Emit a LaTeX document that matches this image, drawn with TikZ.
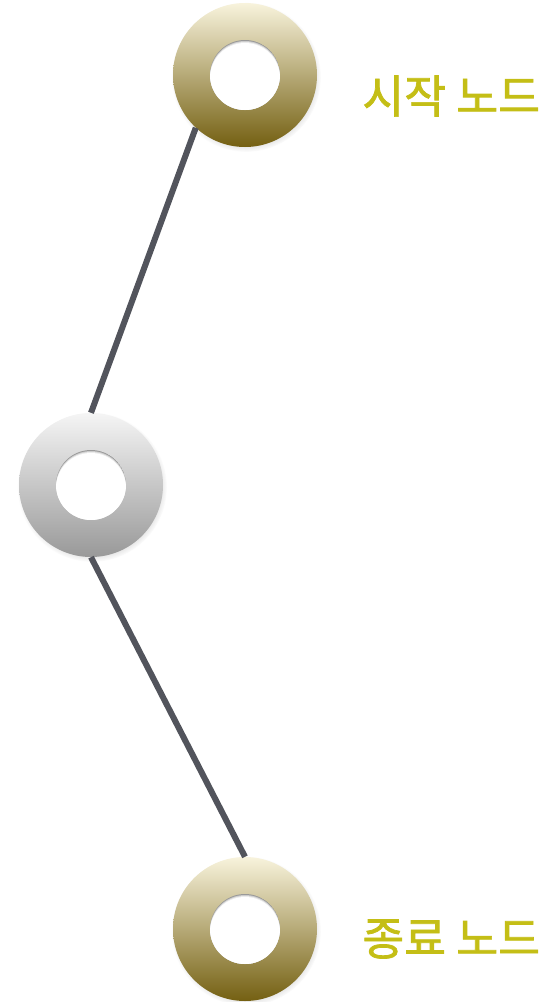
\documentclass[tikz,border=0pt]{standalone}
\usepackage{fontspec}
\newfontfamily\krfont{Noto Sans CJK KR}[FakeBold=1.6]
\usetikzlibrary{positioning,shadows}

\definecolor{labelgold}{RGB}{196,190,22}
\definecolor{linkgray}{RGB}{82,84,92}
\definecolor{goldtop}{RGB}{248,243,220}
\definecolor{goldmid}{RGB}{222,210,168}
\definecolor{goldbot}{RGB}{116,96,18}

% white hole with a soft inner shadow on its upper edge
\newcommand\ringhole{%
  \begin{scope}
    \clip (path picture bounding box.center) circle (35pt);
    \fill[black!40] (path picture bounding box.center) circle (35pt);
    \fill[black!20] ([yshift=-1pt]path picture bounding box.center) circle (35pt);
    \fill[black!8] ([yshift=-2pt]path picture bounding box.center) circle (35pt);
    \fill[white] ([yshift=-3pt]path picture bounding box.center) circle (35pt);
  \end{scope}}

\tikzset{
  ring/.style={circle, minimum size=144pt, inner sep=0pt,
    circular drop shadow={shadow scale=1.04, shadow xshift=1pt,
      shadow yshift=-2pt, opacity=0.35},
    path picture={\ringhole}},
  endring/.style={ring, top color=goldtop, middle color=goldmid, bottom color=goldbot},
  midring/.style={ring, top color=black!4, middle color=black!11, bottom color=black!40},
  link/.style={linkgray, line width=6pt},
  lbl/.style={text=labelgold, font=\krfont\fontsize{45.5}{50}\selectfont, inner sep=0pt}
}

\begin{document}
\begin{tikzpicture}[x=1pt,y=-1pt]
  \useasboundingbox (0,0) rectangle (545,1002);

  \node[endring] (start) at (245,75)  {};
  \node[midring] (mid)   at (91,485)  {};
  \node[endring] (end)   at (245,929) {};

  \draw[link] (start.227) -- (mid.90);
  \draw[link] (mid.270) -- (end.90);

  \node[lbl] (startlbl) [right=45pt of start, yshift=-21pt] {시작 노드};
  \node[lbl] (endlbl)   [right=45pt of end, yshift=-10pt]   {종료 노드};
\end{tikzpicture}
\end{document}
